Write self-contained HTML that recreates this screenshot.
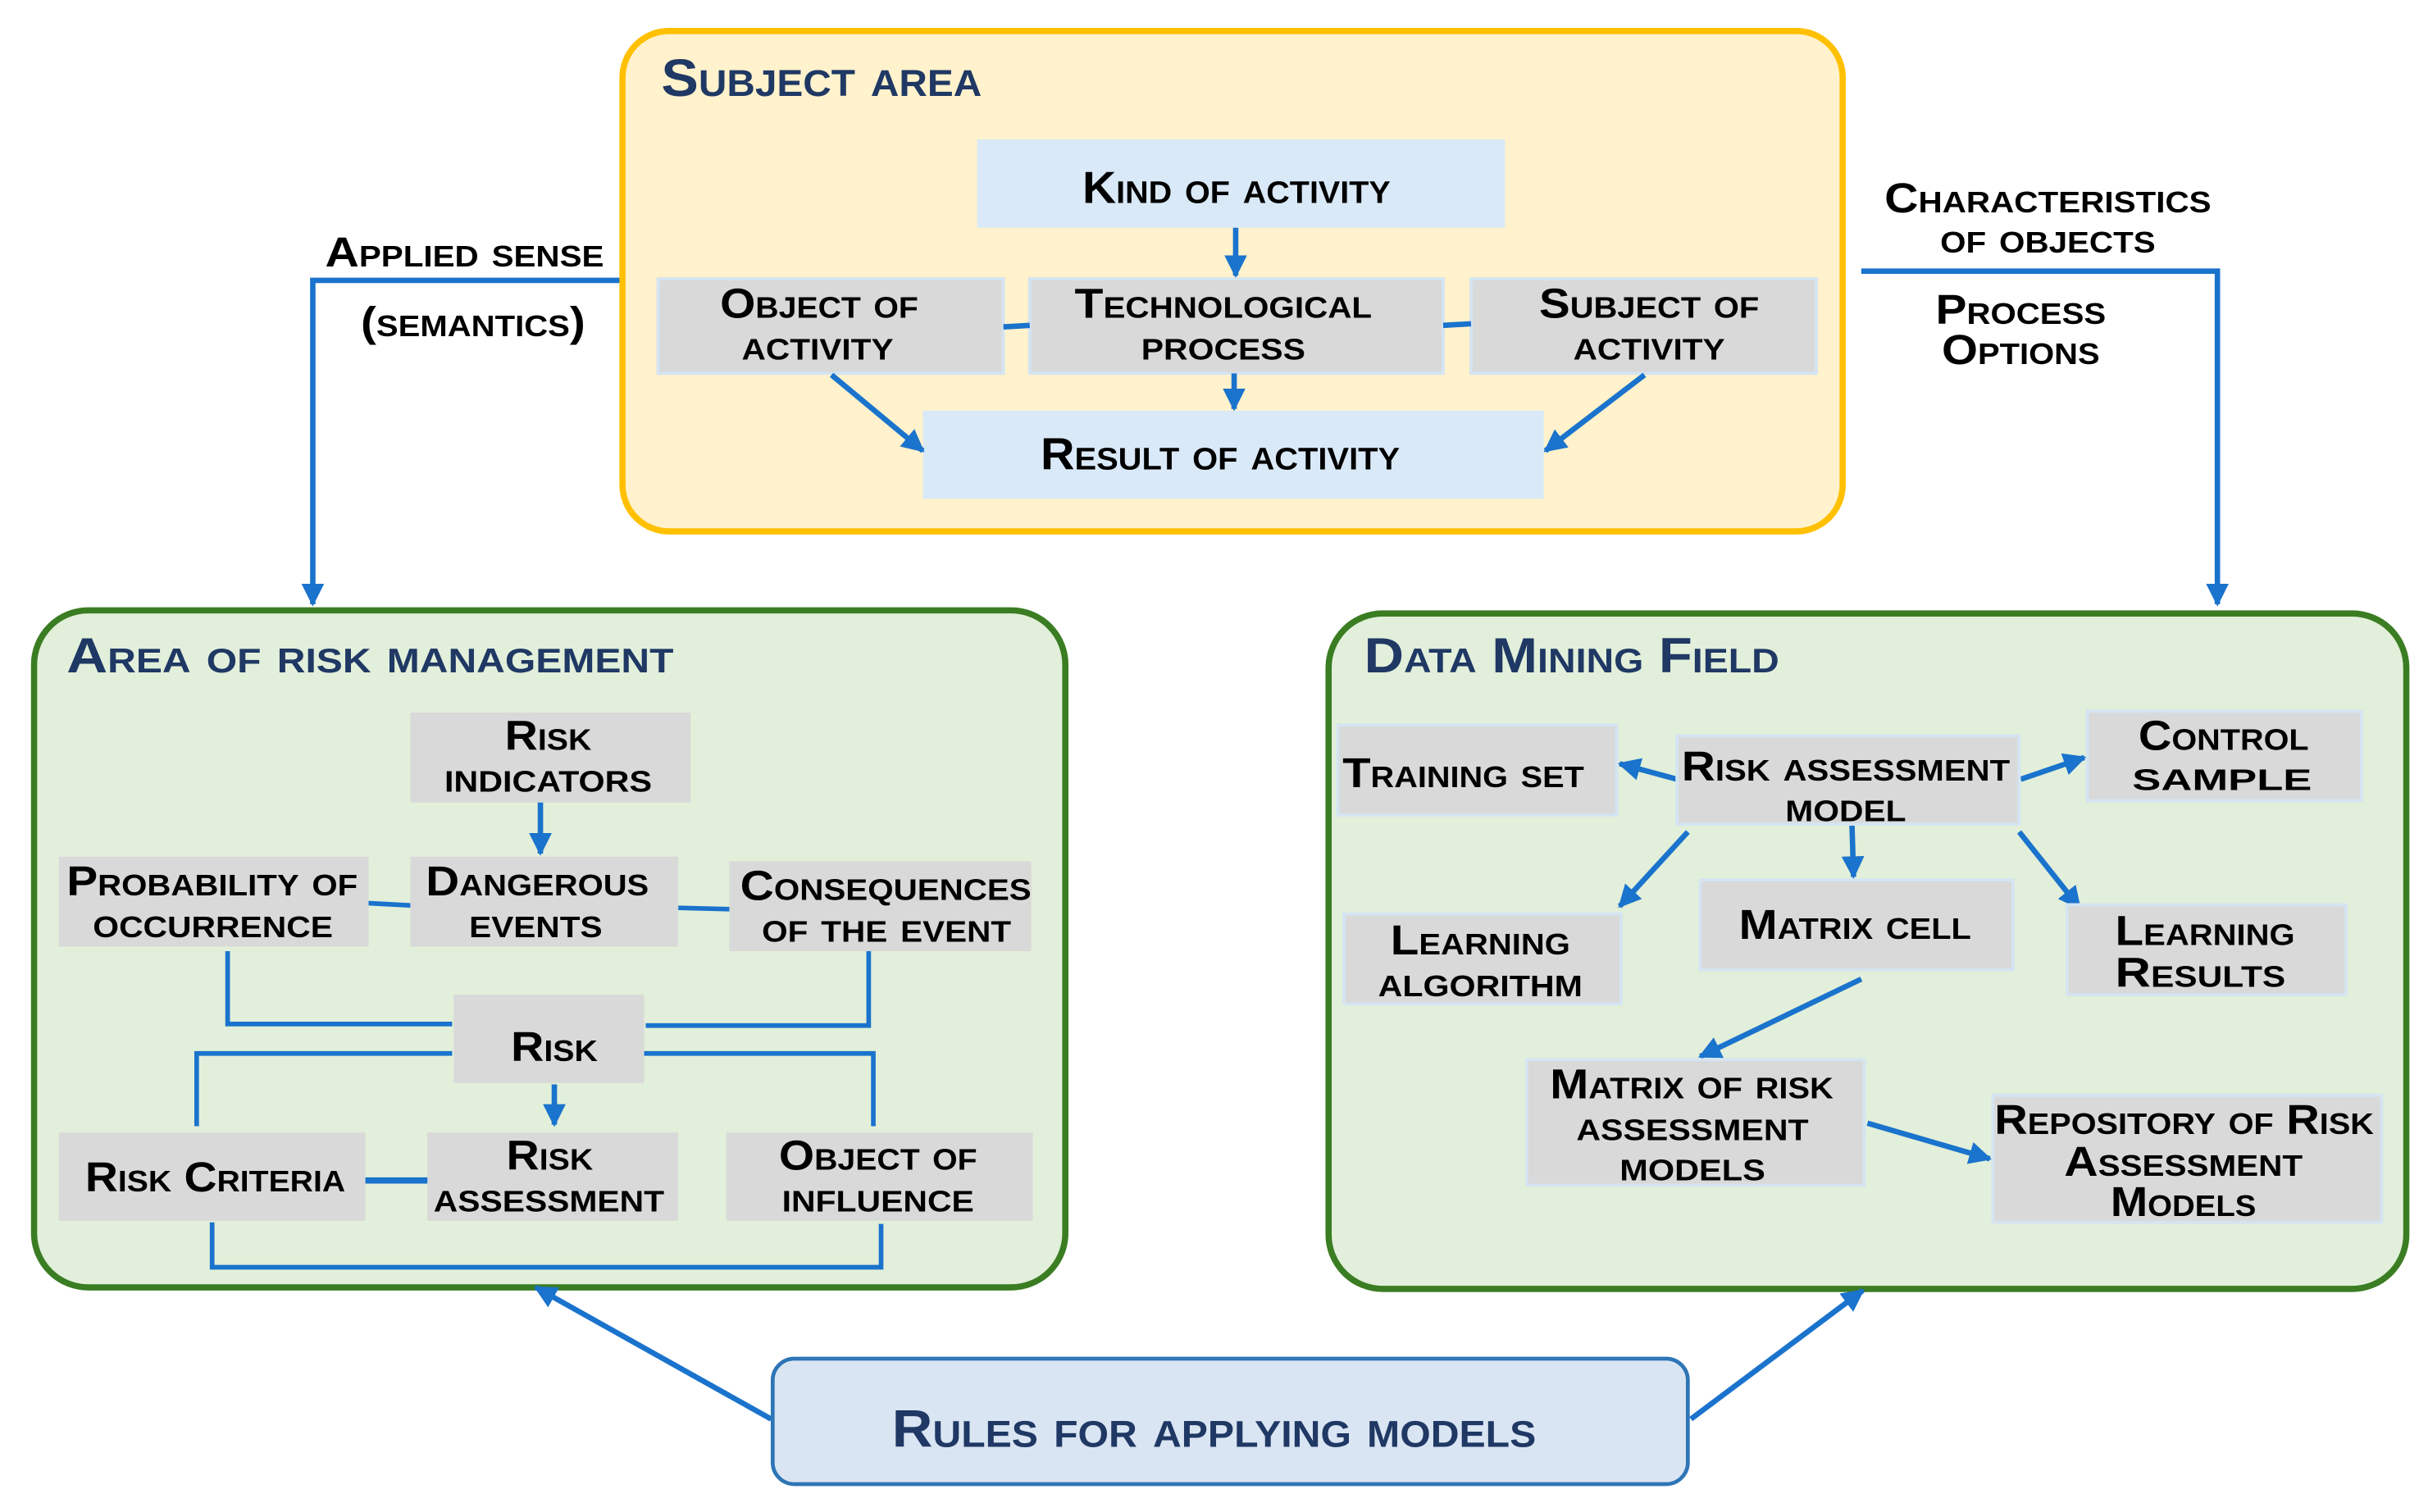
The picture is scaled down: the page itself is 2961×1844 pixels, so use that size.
<!DOCTYPE html>
<html><head><meta charset="utf-8"><style>
html,body{margin:0;padding:0;background:#fff}
svg{display:block}
text{font-family:"Liberation Sans",sans-serif;font-weight:bold;font-variant:small-caps;fill:#000}
.t{font-size:30px;fill:#1f3864}
.b{font-size:29px}
.s{font-size:27px}
</style></head><body>
<svg width="2961" height="1844" viewBox="0 0 1568 976" preserveAspectRatio="none" xmlns="http://www.w3.org/2000/svg">
<defs>
<marker id="a" viewBox="0 0 10 10" refX="9" refY="5" markerWidth="4.2" markerHeight="4.2" orient="auto"><path d="M0,0L10,5L0,10z" fill="#1a73cc"/></marker>
</defs>
<g stroke="#1a73cc" stroke-width="3.5" fill="none">
<polyline points="402,181 202,181 202,390" marker-end="url(#a)"/>
<polyline points="1202,175 1432,175 1432,390" marker-end="url(#a)"/>
</g>
<!-- Subject area -->
<rect x="402" y="20" width="788" height="323" rx="30" fill="#fff2cc" stroke="#ffc000" stroke-width="4"/>
<text class="t" x="427" y="62" textLength="207" lengthAdjust="spacingAndGlyphs" style="font-size:34px">Subject area</text>
<g fill="#dae9f7"><rect x="631" y="90" width="341" height="57"/><rect x="596" y="265" width="401" height="57"/></g>
<g fill="#d9d9d9" stroke="#d4e4f2" stroke-width="2">
<rect x="425" y="180" width="223" height="61"/><rect x="665" y="180" width="267" height="61"/><rect x="950" y="180" width="223" height="61"/></g>
<g stroke="#1a73cc" stroke-width="3.5" fill="none">
<line x1="798" y1="147" x2="798" y2="178" marker-end="url(#a)"/>
<line x1="797" y1="241" x2="797" y2="264" marker-end="url(#a)"/>
<line x1="537" y1="242" x2="596" y2="291" marker-end="url(#a)"/>
<line x1="1062" y1="242" x2="998" y2="291" marker-end="url(#a)"/>
<line x1="648" y1="211" x2="665" y2="210"/><line x1="932" y1="210" x2="950" y2="209"/>
</g>
<text class="b" x="699" y="131" textLength="199" lengthAdjust="spacingAndGlyphs">Kind of activity</text>
<text class="b" x="672" y="303" textLength="232" lengthAdjust="spacingAndGlyphs">Result of activity</text>
<text class="s" x="465" y="205" textLength="128" lengthAdjust="spacingAndGlyphs">Object of</text>
<text class="s" x="479" y="232" textLength="98" lengthAdjust="spacingAndGlyphs">activity</text>
<text class="s" x="694" y="205" textLength="192" lengthAdjust="spacingAndGlyphs">Technological</text>
<text class="s" x="737" y="232" textLength="106" lengthAdjust="spacingAndGlyphs">process</text>
<text class="s" x="994" y="205" textLength="142" lengthAdjust="spacingAndGlyphs">Subject of</text>
<text class="s" x="1016" y="232" textLength="98" lengthAdjust="spacingAndGlyphs">activity</text>
<text class="s" x="210" y="172" textLength="180" lengthAdjust="spacingAndGlyphs">Applied sense</text>
<text class="s" x="233" y="217" textLength="145" lengthAdjust="spacingAndGlyphs">(semantics)</text>
<text class="s" x="1217" y="137" textLength="211" lengthAdjust="spacingAndGlyphs">Characteristics</text>
<text class="s" x="1253" y="163" textLength="139" lengthAdjust="spacingAndGlyphs">of objects</text>
<text class="s" x="1250" y="209" textLength="110" lengthAdjust="spacingAndGlyphs">Process</text>
<text class="s" x="1254" y="235" textLength="102" lengthAdjust="spacingAndGlyphs">Options</text>
<!-- Risk area -->
<rect x="22" y="394" width="666" height="437" rx="35" fill="#e2efda" stroke="#3a7d22" stroke-width="4"/>
<text class="t" x="43" y="434" textLength="392" lengthAdjust="spacingAndGlyphs" style="font-size:32px">Area of risk management</text>
<g stroke="#1a73cc" stroke-width="3" fill="none">
<polyline points="147,614 147,661 292,661"/><polyline points="561,614 561,662 417,662"/>
<polyline points="127,727 127,680 292,680"/><polyline points="564,727 564,680 414,680"/>
<polyline points="137,789 137,818 569,818 569,790"/>
<line x1="238" y1="583" x2="275" y2="585"/><line x1="438" y1="586" x2="476" y2="587"/>
<line x1="230" y1="762" x2="278" y2="762" stroke-width="4"/>
<line x1="349" y1="518" x2="349" y2="551" stroke-width="3.5" marker-end="url(#a)"/>
<line x1="358" y1="700" x2="358" y2="726" stroke-width="3.5" marker-end="url(#a)"/>
</g>
<g fill="#d9d9d9">
<rect x="265" y="460" width="181" height="58"/><rect x="38" y="553" width="200" height="58"/>
<rect x="265" y="553" width="173" height="58"/><rect x="471" y="556" width="195" height="58"/>
<rect x="293" y="642" width="123" height="57"/><rect x="38" y="731" width="198" height="57"/>
<rect x="276" y="731" width="162" height="57"/><rect x="469" y="731" width="198" height="57"/>
</g>
<text class="s" x="326" y="484" textLength="56" lengthAdjust="spacingAndGlyphs">Risk</text>
<text class="s" x="287" y="511" textLength="134" lengthAdjust="spacingAndGlyphs">indicators</text>
<text class="s" x="43" y="578" textLength="188" lengthAdjust="spacingAndGlyphs">Probability of</text>
<text class="s" x="60" y="605" textLength="155" lengthAdjust="spacingAndGlyphs">occurrence</text>
<text class="s" x="275" y="578" textLength="144" lengthAdjust="spacingAndGlyphs">Dangerous</text>
<text class="s" x="303" y="605" textLength="86" lengthAdjust="spacingAndGlyphs">events</text>
<text class="s" x="478" y="581" textLength="188" lengthAdjust="spacingAndGlyphs">Consequences</text>
<text class="s" x="492" y="608" textLength="161" lengthAdjust="spacingAndGlyphs">of the event</text>
<text class="s" x="330" y="685" textLength="56" lengthAdjust="spacingAndGlyphs">Risk</text>
<text class="s" x="55" y="769" textLength="168" lengthAdjust="spacingAndGlyphs">Risk Criteria</text>
<text class="s" x="327" y="755" textLength="56" lengthAdjust="spacingAndGlyphs">Risk</text>
<text class="s" x="280" y="782" textLength="149" lengthAdjust="spacingAndGlyphs">assessment</text>
<text class="s" x="503" y="755" textLength="128" lengthAdjust="spacingAndGlyphs">Object of</text>
<text class="s" x="505" y="782" textLength="124" lengthAdjust="spacingAndGlyphs">influence</text>
<!-- Data mining -->
<rect x="858" y="396" width="696" height="436" rx="35" fill="#e2efda" stroke="#3a7d22" stroke-width="4"/>
<text class="t" x="881" y="434" textLength="268" lengthAdjust="spacingAndGlyphs" style="font-size:32px">Data Mining Field</text>
<g stroke="#1a73cc" stroke-width="3.5" fill="none">
<line x1="1083" y1="503" x2="1046" y2="493" marker-end="url(#a)"/>
<line x1="1305" y1="503" x2="1346" y2="489" marker-end="url(#a)"/>
<line x1="1090" y1="537" x2="1046" y2="585" marker-end="url(#a)"/>
<line x1="1196" y1="532" x2="1197" y2="566" marker-end="url(#a)"/>
<line x1="1304" y1="537" x2="1343" y2="586" marker-end="url(#a)"/>
<line x1="1202" y1="632" x2="1098" y2="682" marker-end="url(#a)"/>
<line x1="1206" y1="725" x2="1285" y2="748" marker-end="url(#a)"/>
</g>
<g fill="#d9d9d9" stroke="#d4e4f2" stroke-width="2">
<rect x="864" y="468" width="180" height="58"/><rect x="1083" y="475" width="221" height="57"/>
<rect x="1348" y="459" width="177" height="58"/><rect x="868" y="590" width="179" height="58"/>
<rect x="1098" y="568" width="202" height="58"/><rect x="1335" y="584" width="180" height="58"/>
<rect x="986" y="684" width="218" height="81"/><rect x="1287" y="707" width="251" height="82"/>
</g>
<text class="s" x="867" y="508" textLength="156" lengthAdjust="spacingAndGlyphs">Training set</text>
<text class="s" x="1086" y="504" textLength="212" lengthAdjust="spacingAndGlyphs">Risk assessment</text>
<text class="s" x="1153" y="530" textLength="78" lengthAdjust="spacingAndGlyphs">model</text>
<text class="s" x="1381" y="484" textLength="110" lengthAdjust="spacingAndGlyphs">Control</text>
<text class="s" x="1377" y="510" textLength="116" lengthAdjust="spacingAndGlyphs">sample</text>
<text class="s" x="898" y="616" textLength="116" lengthAdjust="spacingAndGlyphs">Learning</text>
<text class="s" x="890" y="643" textLength="132" lengthAdjust="spacingAndGlyphs">algorithm</text>
<text class="s" x="1123" y="606" textLength="150" lengthAdjust="spacingAndGlyphs">Matrix cell</text>
<text class="s" x="1366" y="610" textLength="116" lengthAdjust="spacingAndGlyphs">Learning</text>
<text class="s" x="1366" y="637" textLength="110" lengthAdjust="spacingAndGlyphs">Results</text>
<text class="s" x="1001" y="709" textLength="183" lengthAdjust="spacingAndGlyphs">Matrix of risk</text>
<text class="s" x="1018" y="736" textLength="150" lengthAdjust="spacingAndGlyphs">assessment</text>
<text class="s" x="1046" y="762" textLength="94" lengthAdjust="spacingAndGlyphs">models</text>
<text class="s" x="1288" y="732" textLength="245" lengthAdjust="spacingAndGlyphs">Repository of Risk</text>
<text class="s" x="1333" y="759" textLength="154" lengthAdjust="spacingAndGlyphs">Assessment</text>
<text class="s" x="1363" y="785" textLength="94" lengthAdjust="spacingAndGlyphs">Models</text>
<!-- Rules -->
<g stroke="#1a73cc" stroke-width="3.5" fill="none">
<line x1="498" y1="916" x2="346" y2="831" marker-end="url(#a)"/>
<line x1="1092" y1="916" x2="1203" y2="833" marker-end="url(#a)"/>
</g>
<rect x="499" y="877" width="591" height="81" rx="14" fill="#dae5f3" stroke="#2e75b6" stroke-width="2.5"/>
<text class="t" x="576" y="934" textLength="416" lengthAdjust="spacingAndGlyphs" style="font-size:34px">Rules for applying models</text>
</svg>
</body></html>
